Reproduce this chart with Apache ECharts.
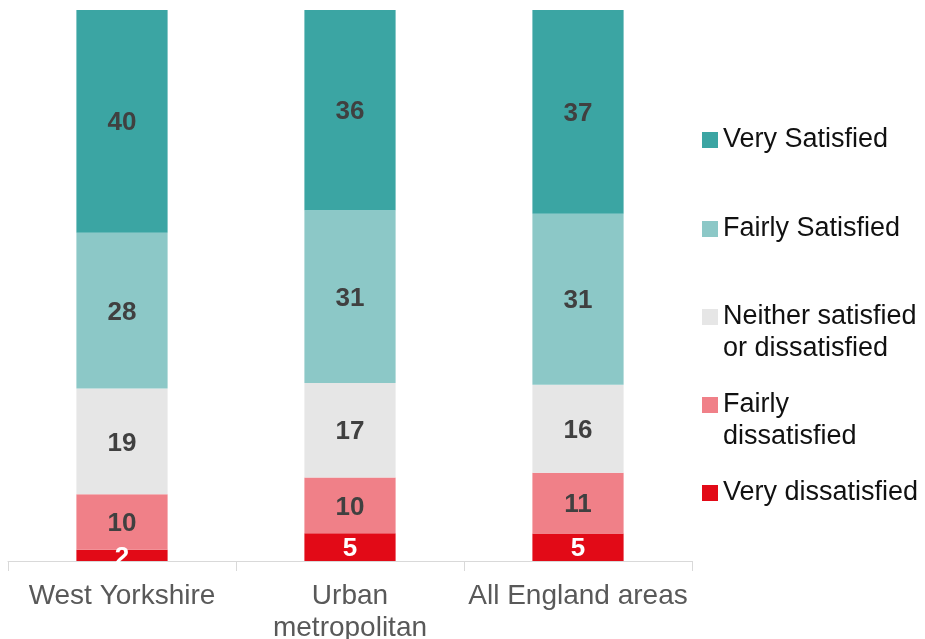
<!DOCTYPE html>
<html>
<head>
<meta charset="utf-8">
<script src="https://cdn.jsdelivr.net/npm/echarts@6/dist/echarts.min.js"></script>
<style>
  html, body { margin: 0; padding: 0; background: #ffffff; }
  #chart { width: 925px; height: 639px; }
</style>
</head>
<body>
<div id="chart"></div>
<script>
// Satisfaction survey, percentage of respondents per area
const categories = ['West Yorkshire', 'Urban\nmetropolitan', 'All England areas'];
const verySatisfied = [40, 36, 37];
const fairlySatisfied = [28, 31, 31];
const neitherSatisfied = [19, 17, 16];
const fairlyDissatisfied = [10, 10, 11];
const veryDissatisfied = [2, 5, 5];

const legendNames = [
  'Very Satisfied',
  'Fairly Satisfied',
  'Neither satisfied\nor dissatisfied',
  'Fairly\ndissatisfied',
  'Very dissatisfied'
];

// stacked from the bottom up
const stackOrder = [
  { name: legendNames[4], values: veryDissatisfied, color: '#E20A17', label: '#ffffff' },
  { name: legendNames[3], values: fairlyDissatisfied, color: '#F08088', label: '#404040' },
  { name: legendNames[2], values: neitherSatisfied, color: '#E6E6E6', label: '#404040' },
  { name: legendNames[1], values: fairlySatisfied, color: '#8CC8C7', label: '#404040' },
  { name: legendNames[0], values: verySatisfied, color: '#3BA5A3', label: '#404040' }
];

// each bar is a 100% stack of its own categories
const totals = categories.map((_, i) =>
  stackOrder.reduce((s, d) => s + d.values[i], 0));

const FONT = '"Liberation Sans", Arial, sans-serif';

const series = stackOrder.map(d => ({
  name: d.name,
  type: 'bar',
  stack: 'share',
  barWidth: '40%',
  itemStyle: { color: d.color },
  label: {
    show: true,
    position: 'inside',
    color: d.label,
    fontFamily: FONT,
    fontWeight: 'bold',
    fontSize: 26,
    offset: [0, 2],
    formatter: p => String(d.values[p.dataIndex])
  },
  data: d.values.map((v, i) => v / totals[i] * 100)
}));

// one legend block per entry; the icon sits level with the first text line
const legendTops = [124, 213, 301, 389, 477];
const legends = legendNames.map((name, i) => {
  const twoLine = name.indexOf('\n') >= 0;
  return {
    data: [name],
    left: 702,
    top: legendTops[i],
    orient: 'vertical',
    padding: 0,
    itemWidth: 16,
    itemHeight: twoLine ? 48 : 16,
    icon: twoLine ? 'path://M0,0h16v16h-16z M0,48L0.01,48' : 'rect',
    selectedMode: false,
    textStyle: {
      fontFamily: FONT,
      fontSize: 27,
      lineHeight: 32,
      color: '#111111'
    }
  };
});

const chart = echarts.init(document.getElementById('chart'), null, { renderer: 'canvas' });
chart.setOption({
  animation: false,
  backgroundColor: '#ffffff',
  grid: {
    left: 8, right: 233, top: 10, bottom: 78,
    containLabel: false,
    outerBoundsMode: 'none'
  },
  legend: legends,
  xAxis: {
    type: 'category',
    data: categories,
    axisLine: { lineStyle: { color: '#D9D9D9', width: 1 } },
    axisTick: { show: true, length: 10, lineStyle: { color: '#D9D9D9' } },
    axisLabel: {
      fontFamily: FONT,
      fontSize: 28,
      lineHeight: 32,
      color: '#595959',
      margin: 19,
      interval: 0
    }
  },
  yAxis: {
    type: 'value',
    min: 0,
    max: 100,
    show: false,
    splitLine: { show: false }
  },
  series: series
});
</script>
</body>
</html>
